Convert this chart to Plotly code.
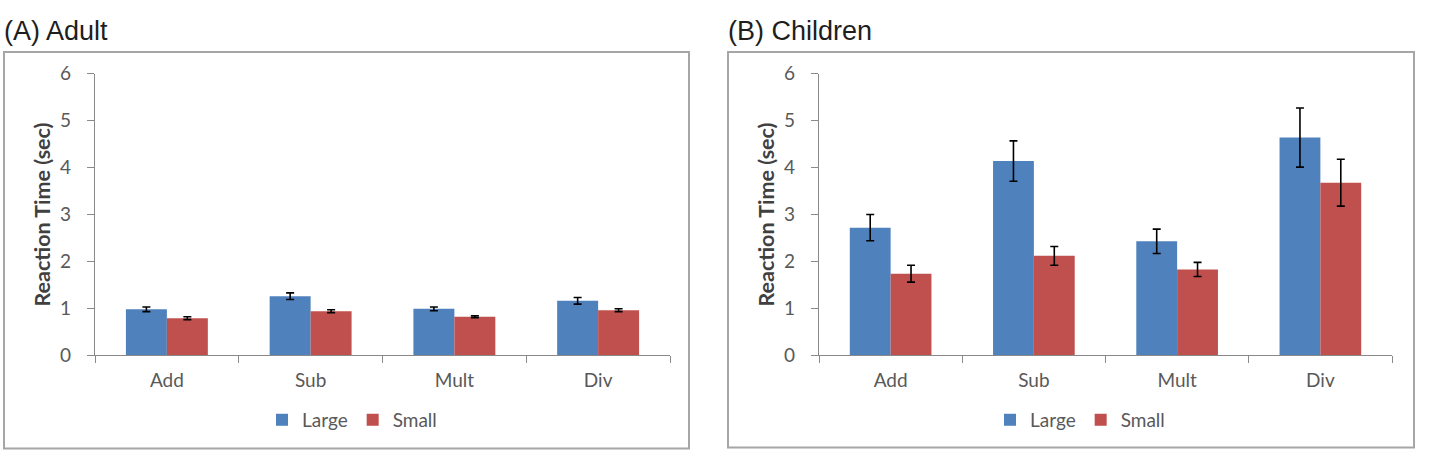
import plotly.graph_objects as go

W, H = 1429, 468

categories = ["Add", "Sub", "Mult", "Div"]
series_names = ["Large", "Small"]

adult_large = [0.98, 1.26, 0.99, 1.16]
adult_large_err = [0.05, 0.07, 0.04, 0.07]
adult_small = [0.79, 0.94, 0.82, 0.96]
adult_small_err = [0.03, 0.03, 0.02, 0.03]

child_large = [2.72, 4.14, 2.43, 4.64]
child_large_err = [0.28, 0.43, 0.26, 0.63]
child_small = [1.74, 2.12, 1.83, 3.68]
child_small_err = [0.18, 0.20, 0.15, 0.50]

y_ticks = [0, 1, 2, 3, 4, 5, 6]
panel_titles = ["(A) Adult", "(B) Children"]
y_title = "Reaction Time (sec)"

BLUE = "#4F81BD"
RED = "#C0504D"
FONT = "Lato, 'Open Sans', sans-serif"
TXT = "#595959"


def px(x):
    return x / W


def py(y):
    return 1 - y / H


fig = go.Figure()

panels = [
    dict(large=adult_large, le=adult_large_err, small=adult_small, se=adult_small_err,
         xa="x", ya="y", legend="legend"),
    dict(large=child_large, le=child_large_err, small=child_small, se=child_small_err,
         xa="x2", ya="y2", legend="legend2"),
]

for p in panels:
    for name, vals, errs, col in [(series_names[0], p["large"], p["le"], BLUE),
                                  (series_names[1], p["small"], p["se"], RED)]:
        fig.add_trace(go.Bar(
            x=categories, y=vals, name=name, marker_color=col,
            marker_line_width=0,
            error_y=dict(type="data", array=errs, visible=True,
                         color="black", thickness=1.6, width=4),
            xaxis=p["xa"], yaxis=p["ya"], legend=p["legend"],
        ))

axis_y_common = dict(
    range=[0, 6], tickvals=y_ticks, showgrid=False, zeroline=False,
    showline=True, linecolor="#898989", linewidth=1.2,
    ticks="outside", ticklen=7, tickcolor="#898989", ticklabelstandoff=12,
    tickfont=dict(family=FONT, size=19, color=TXT),
    title=dict(text=f"<b>{y_title}</b>", font=dict(family=FONT, size=21.5, color="#404040"),
               standoff=3),
    fixedrange=True,
)
axis_x_common = dict(
    showgrid=False, zeroline=False, showline=True, linecolor="#898989", linewidth=1.2,
    ticks="outside", ticklen=7, tickcolor="#898989", tickson="boundaries",
    ticklabelstandoff=8,
    tickfont=dict(family=FONT, size=19, color=TXT),
    range=[-0.5, 3.5], fixedrange=True,
)

y_top, y_bot = 65, 361
fig.update_layout(
    width=W, height=H, autosize=False,
    margin=dict(l=0, r=0, t=0, b=0),
    paper_bgcolor="white", plot_bgcolor="white",
    barmode="group", bargap=0.43, bargroupgap=0,
    xaxis=dict(domain=[px(95), px(670)], anchor="y", **axis_x_common),
    yaxis=dict(domain=[py(y_bot), py(y_top)], anchor="x", **axis_y_common),
    xaxis2=dict(domain=[px(819), px(1392)], anchor="y2", **axis_x_common),
    yaxis2=dict(domain=[py(y_bot), py(y_top)], anchor="x2", **axis_y_common),
    legend=dict(orientation="h", x=px(352), y=py(429), xanchor="center", yanchor="middle",
                font=dict(family=FONT, size=19, color=TXT), itemwidth=30,
                tracegroupgap=0, bgcolor="rgba(0,0,0,0)"),
    legend2=dict(orientation="h", x=px(1080), y=py(429), xanchor="center", yanchor="middle",
                 font=dict(family=FONT, size=19, color=TXT), itemwidth=30,
                 tracegroupgap=0, bgcolor="rgba(0,0,0,0)"),
    showlegend=True,
)

# panel frames
for (x0, x1, y0, y1) in [(4, 689, 42, 459), (728, 1414, 42, 458)]:
    fig.add_shape(type="rect", xref="paper", yref="paper",
                  x0=px(x0), x1=px(x1), y0=py(y1), y1=py(y0),
                  line=dict(color="#A6A6A6", width=2), fillcolor="rgba(0,0,0,0)",
                  layer="below")

for title, x in zip(panel_titles, [2, 726]):
    fig.add_annotation(text=title, xref="paper", yref="paper", x=px(x), y=py(20),
                       xanchor="left", yanchor="middle", showarrow=False,
                       font=dict(family="Liberation Sans, Arial, sans-serif", size=27, color="#1E1E1E"))

fig.write_html("out.html")
